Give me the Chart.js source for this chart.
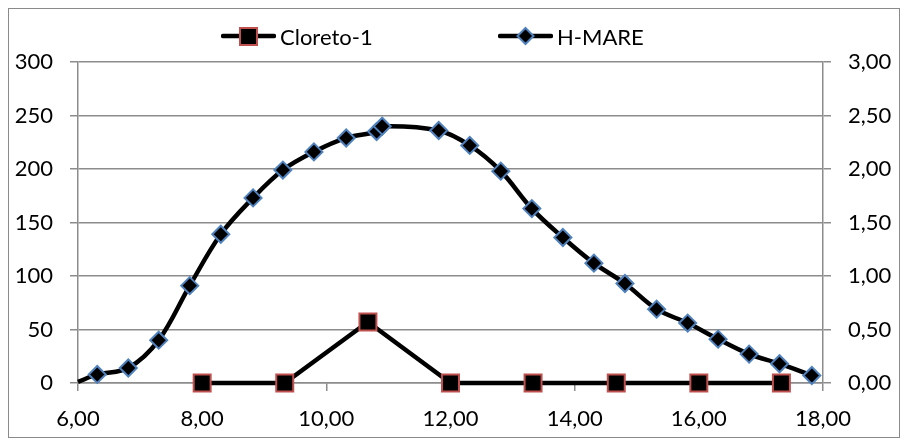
<!DOCTYPE html>
<html>
<head>
<meta charset="utf-8">
<script src="https://cdn.jsdelivr.net/npm/chart.js@4"></script>
<style>
  html, body { margin: 0; padding: 0; background: #fff; }
  #wrap { position: relative; width: 900px; height: 439px; }
  #frame { position: absolute; left: 8px; top: 8px; width: 890px; height: 428px; border: 1px solid #8a8a8a; pointer-events: none; }
  .leg { position: absolute; top: 21px; height: 30px; display: flex; align-items: center; font-family: Lato, sans-serif; font-size: 22px; color: #000; }
  .leg canvas { margin-right: 4px; }
</style>
</head>
<body>
<div id="wrap">
  <canvas id="chart"></canvas>
  <div id="frame"></div>
  <div class="leg" style="left:221px"><canvas id="icon1" width="55" height="22"></canvas><span>Cloreto-1</span></div>
  <div class="leg" style="left:498px"><canvas id="icon2" width="55" height="22"></canvas><span>H-MARE</span></div>
</div>
<script>
// Cloreto-1 (left axis)
const cloretoX = [8.00, 9.33, 10.67, 12.00, 13.33, 14.67, 16.00, 17.33];
const cloretoY = [0, 0, 57, 0, 0, 0, 0, 0];

// H-MARE (right axis)
const hmareX = [6.00, 6.31, 6.81, 7.30, 7.80, 8.30, 8.82, 9.30, 9.80, 10.32, 10.81, 10.90,
  11.81, 12.31, 12.81, 13.31, 13.81, 14.31, 14.81, 15.32, 15.82, 16.31, 16.81, 17.30, 17.82];
const hmareY = [0.01, 0.08, 0.14, 0.40, 0.91, 1.39, 1.73, 1.99, 2.16, 2.29, 2.35, 2.40,
  2.36, 2.22, 1.98, 1.63, 1.36, 1.12, 0.93, 0.69, 0.56, 0.41, 0.27, 0.18, 0.07];

const xTicks = [6, 8, 10, 12, 14, 16, 18];
const leftTicks = [0, 50, 100, 150, 200, 250, 300];
const rightTicks = [0, 0.5, 1, 1.5, 2, 2.5, 3];

const RED = '#C0504D';
const BLUE = '#4F81BD';
const GRID = '#8c8c8c';
const FONT = { family: 'Lato', size: 22 };

function drawIcon(id, kind) {
  const c = document.getElementById(id).getContext('2d');
  c.strokeStyle = '#000';
  c.lineWidth = 4.5;
  c.lineCap = 'round';
  c.beginPath(); c.moveTo(2, 11); c.lineTo(53, 11); c.stroke();
  c.fillStyle = '#000';
  c.lineWidth = 2;
  c.lineCap = 'butt';
  if (kind === 'rect') {
    c.strokeStyle = RED;
    c.fillRect(19, 3, 17, 17);
    c.strokeRect(19, 3, 17, 17);
  } else {
    c.strokeStyle = BLUE;
    c.beginPath();
    c.moveTo(27.5, 3); c.lineTo(35.5, 11); c.lineTo(27.5, 19); c.lineTo(19.5, 11); c.closePath();
    c.fill(); c.stroke();
  }
}
drawIcon('icon1', 'rect');
drawIcon('icon2', 'diamond');

const comma2 = v => v.toFixed(2).replace('.', ',');

new Chart(document.getElementById('chart'), {
  type: 'line',
  data: {
    datasets: [
      {
        label: 'Cloreto-1',
        data: cloretoX.map((x, i) => ({ x: x, y: cloretoY[i] })),
        yAxisID: 'y',
        clip: false,
        borderColor: '#000',
        borderWidth: 4.5,
        tension: 0,
        pointStyle: 'rect',
        pointRadius: 12,
        pointBackgroundColor: '#000',
        pointBorderColor: RED,
        pointBorderWidth: 2,
        order: 2
      },
      {
        label: 'H-MARE',
        data: hmareX.map((x, i) => ({ x: x, y: hmareY[i] })),
        yAxisID: 'y1',
        clip: false,
        borderColor: '#000',
        borderWidth: 4.5,
        tension: 0.35,
        pointStyle: 'rectRot',
        pointRadius: ctx => ctx.dataIndex === 0 ? 0 : 8.5,
        pointBackgroundColor: '#000',
        pointBorderColor: BLUE,
        pointBorderWidth: 2,
        order: 1
      }
    ]
  },
  options: {
    responsive: true,
    maintainAspectRatio: false,
    animation: false,
    layout: { padding: { top: 62, left: 0, right: 0, bottom: 0 } },
    plugins: {
      legend: { display: false },
      tooltip: { enabled: false }
    },
    scales: {
      x: {
        type: 'linear',
        min: 6,
        max: 18,
        afterFit: s => { s.height = 56; },
        afterBuildTicks: s => { s.ticks = xTicks.map(v => ({ value: v })); },
        ticks: { color: '#000', font: FONT, padding: 15, maxRotation: 0, callback: v => comma2(v) },
        grid: { drawOnChartArea: false, drawTicks: true, tickLength: 8, color: GRID, lineWidth: 1.5 },
        border: { color: GRID, width: 1.5 }
      },
      y: {
        position: 'left',
        min: 0,
        max: 300,
        afterFit: s => { s.width = 78; },
        afterBuildTicks: s => { s.ticks = leftTicks.map(v => ({ value: v })); },
        ticks: { color: '#000', font: FONT, padding: 17, callback: v => String(v) },
        grid: { drawOnChartArea: true, drawTicks: true, tickLength: 8, color: GRID, lineWidth: 1.5 },
        border: { color: GRID, width: 1.5 }
      },
      y1: {
        position: 'right',
        min: 0,
        max: 3,
        afterFit: s => { s.width = 77; },
        afterBuildTicks: s => { s.ticks = rightTicks.map(v => ({ value: v })); },
        ticks: { color: '#000', font: FONT, padding: 17, callback: v => comma2(v) },
        grid: { drawOnChartArea: false, drawTicks: true, tickLength: 8, color: GRID, lineWidth: 1.5 },
        border: { color: GRID, width: 1.5 }
      }
    }
  }
});
</script>
</body>
</html>
